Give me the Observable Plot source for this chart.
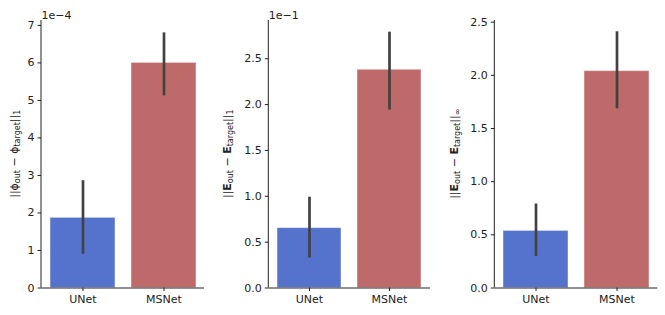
<!DOCTYPE html>
<html>
<head>
<meta charset="utf-8">
<script src="https://cdn.jsdelivr.net/npm/d3@7"></script>
<script src="https://cdn.jsdelivr.net/npm/@observablehq/plot@0.6"></script>
<style>
  html, body { margin: 0; padding: 0; background: #fff; }
  #wrap { position: relative; width: 665px; height: 315px; font-family: "DejaVu Sans", sans-serif; }
  #wrap svg { position: absolute; top: 0; overflow: visible; }
</style>
</head>
<body>
<div id="wrap"></div>
<script>
// ---- data ----
const models = ["UNet", "MSNet"];
const colors = ["#5573cd", "#bf6a6a"];

// panel 1: ||phi_out - phi_target||_1
const phiL1Mean = [1.87e-4, 6.00e-4];
const phiL1Lo   = [0.90e-4, 5.12e-4];
const phiL1Hi   = [2.86e-4, 6.80e-4];

// panel 2: ||E_out - E_target||_1
const eL1Mean = [0.0653, 0.238];
const eL1Lo   = [0.0326, 0.194];
const eL1Hi   = [0.0990, 0.279];

// panel 3: ||E_out - E_target||_inf
const eInfMean = [0.537, 2.04];
const eInfLo   = [0.298, 1.686];
const eInfHi   = [0.790, 2.41];

const ticks1 = [0, 1, 2, 3, 4, 5, 6, 7].map(d => d * 1e-4);
const ticks2 = [0, 0.5, 1.0, 1.5, 2.0, 2.5].map(d => d * 1e-1);
const ticks3 = [0, 0.5, 1.0, 1.5, 2.0, 2.5];

function rows(mean, lo, hi) {
  return models.map((m, i) => ({model: m, value: mean[i], lo: lo[i], hi: hi[i]}));
}

const wrap = document.getElementById("wrap");
const ink = "#222222";

function ylabelMark(parts, cx) {
  return (index, scales, values, dims) => {
    const cy = (dims.marginTop + dims.height - dims.marginBottom) / 2;
    const t = d3.create("svg:text")
      .attr("transform", `translate(${cx},${cy}) rotate(-90)`)
      .attr("text-anchor", "middle")
      .attr("dy", "0.3em")
      .attr("fill", ink)
      .attr("font-size", 11)
      .attr("font-family", "DejaVu Sans, sans-serif");
    for (const p of parts) {
      const s = t.append("tspan").text(p.t);
      if (p.sub) s.attr("font-size", 8).attr("baseline-shift", "-25%");
      if (p.bold) s.attr("font-weight", "bold");
    }
    return t.node();
  };
}

function spineLeft() {
  return (index, scales, values, dims) => {
    return d3.create("svg:line")
      .attr("x1", dims.marginLeft).attr("x2", dims.marginLeft)
      .attr("y1", dims.marginTop).attr("y2", dims.height - dims.marginBottom)
      .attr("stroke", ink).attr("stroke-width", 1).node();
  };
}

function panel({left, width, marginLeft, marginRight, data, yMax, ticks, fmt, offset, label, labelX}) {
  const marks = [
    Plot.barY(data, {x: "model", y: "value", fill: "model", stroke: "white", strokeOpacity: 0.45, strokeWidth: 1}),
    Plot.ruleX(data, {x: "model", y1: "lo", y2: "hi", stroke: "#424242", strokeWidth: 2.7}),
    Plot.ruleY([0], {stroke: ink, strokeWidth: 1}),
    spineLeft(),
    Plot.axisY({ticks, tickFormat: fmt, tickSize: 3.5, tickPadding: 3.5, label: null, stroke: ink}),
    Plot.axisX({tickSize: 3.5, tickPadding: 3.5, label: null, stroke: ink}),
    ylabelMark(label, labelX)
  ];
  if (offset) {
    marks.push(Plot.text([offset], {frameAnchor: "top-left", text: d => d, dy: -9, textAnchor: "start", fill: ink, fontSize: 11}));
  }
  const svg = Plot.plot({
    width, height: 315,
    marginLeft, marginRight, marginTop: 20, marginBottom: 27.5,
    style: {fontFamily: "DejaVu Sans, sans-serif", fontSize: "11px", color: ink, background: "transparent", overflow: "visible"},
    x: {domain: models, paddingInner: 0.2, paddingOuter: 0.1, label: null},
    y: {domain: [0, yMax], label: null},
    color: {domain: models, range: colors},
    marks
  });
  svg.style.left = left + "px";
  wrap.appendChild(svg);
}

panel({
  left: 0, width: 215, marginLeft: 41, marginRight: 11,
  data: rows(phiL1Mean, phiL1Lo, phiL1Hi), yMax: 7.13e-4, ticks: ticks1,
  fmt: d => String(Math.round(d * 1e4)), offset: "1e\u22124",
  label: [{t: "||\u03d5"}, {t: "out", sub: true}, {t: " \u2212 \u03d5"}, {t: "target", sub: true}, {t: "||"}, {t: "1", sub: true}],
  labelX: 15
});

panel({
  left: 215, width: 225, marginLeft: 53.3, marginRight: 10,
  data: rows(eL1Mean, eL1Lo, eL1Hi), yMax: 0.2917, ticks: ticks2,
  fmt: d => (d * 10).toFixed(1), offset: "1e\u22121",
  label: [{t: "||"}, {t: "E", bold: true}, {t: "out", sub: true}, {t: " \u2212 "}, {t: "E", bold: true}, {t: "target", sub: true}, {t: "||"}, {t: "1", sub: true}],
  labelX: 12.3
});

panel({
  left: 440, width: 225, marginLeft: 54.3, marginRight: 7.7,
  data: rows(eInfMean, eInfLo, eInfHi), yMax: 2.516, ticks: ticks3,
  fmt: d => d.toFixed(1), offset: null,
  label: [{t: "||"}, {t: "E", bold: true}, {t: "out", sub: true}, {t: " \u2212 "}, {t: "E", bold: true}, {t: "target", sub: true}, {t: "||"}, {t: "\u221e", sub: true}],
  labelX: 15
});
</script>
</body>
</html>
